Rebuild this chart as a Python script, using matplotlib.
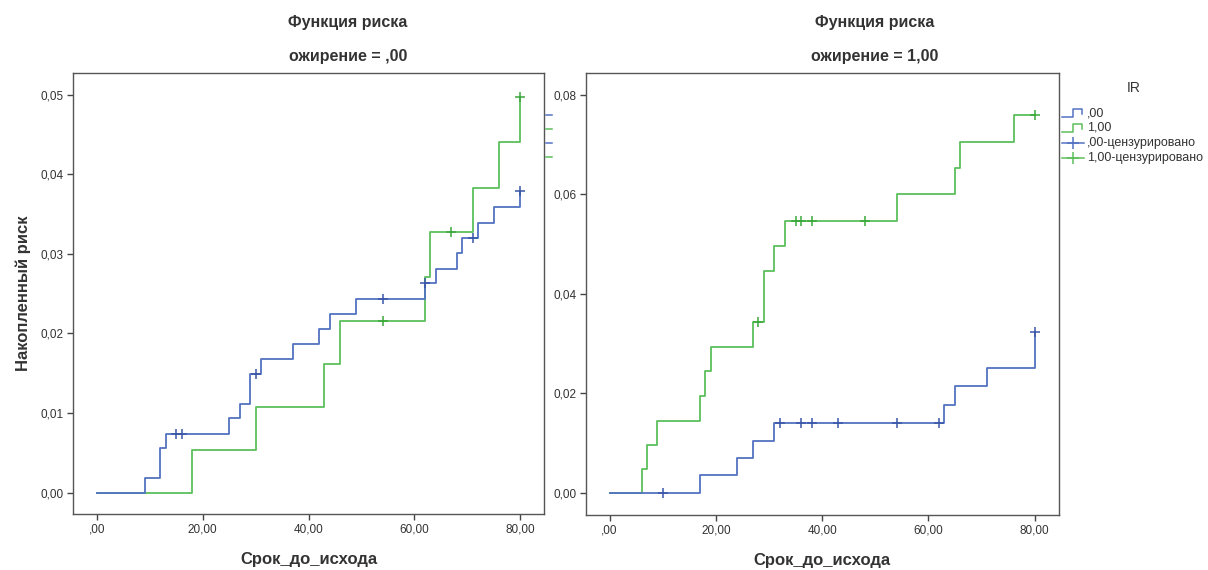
import numpy as np
import matplotlib
matplotlib.use("Agg")
import matplotlib.pyplot as plt
from matplotlib.ticker import FuncFormatter

plt.rcParams['font.family'] = ['Liberation Sans', 'DejaVu Sans']

# ожирение = ,00
left_blue_t = [0, 9, 12, 13, 25, 27, 29, 31, 37, 42, 44, 49, 62, 64, 68, 69, 72, 75, 80]
left_blue_h = [0, .00186, .00555, .00739, .00932, .01116, .01489, .01677, .01866, .0205,
               .02246, .02435, .02628, .02812, .03009, .03197, .03394, .0359, .03788]
left_blue_cens_t = [15, 16, 30, 54, 62, 71, 80]
left_blue_cens_h = [.00739, .00739, .01489, .02435, .02628, .03197, .03788]

left_green_t = [0, 18, 30, 43, 46, 62, 63, 71, 76, 80]
left_green_h = [0, .0053, .01074, .01614, .02158, .02711, .03269, .03829, .04403, .04972]
left_green_cens_t = [54, 67, 80]
left_green_cens_h = [.02158, .03269, .04972]

# ожирение = 1,00
right_blue_t = [0, 17, 24, 27, 31, 63, 65, 71, 80]
right_blue_h = [0, .0035, .0070, .0105, .0140, .0177, .0214, .0251, .0324]
right_blue_cens_t = [10, 32, 36, 38, 43, 54, 62, 80]
right_blue_cens_h = [0, .014, .014, .014, .014, .014, .014, .0324]

right_green_t = [0, 6, 7, 9, 17, 18, 19, 27, 29, 31, 33, 54, 65, 66, 76, 80]
right_green_h = [0, .0048, .0097, .0145, .0194, .0245, .0293, .0344, .0445, .0496, .0547,
                 .0600, .0653, .0706, .0760, .0760]
right_green_cens_t = [28, 35, 36, 38, 48, 80]
right_green_cens_h = [.0344, .0547, .0547, .0547, .0547, .0760]

x_ticks = [0, 20, 40, 60, 80]
left_y_ticks = [0, .01, .02, .03, .04, .05]
right_y_ticks = [0, .02, .04, .06, .08]
legend_labels = [",00", "1,00", ",00-цензурировано", "1,00-цензурировано"]

BLUE = '#5373c2'
GREEN = '#5cbf5c'
BLUE_D = '#3a57a8'
GREEN_D = '#3aa83a'
TXT = '#333333'


def xfmt(v, pos):
    s = f"{v:.2f}".replace('.', ',')
    return ",00" if abs(v) < 1e-9 else s


def yfmt(v, pos):
    return f"{v:.2f}".replace('.', ',')


fig = plt.figure(figsize=(12.08, 5.70), dpi=100)
ax1 = fig.add_axes([0.0607, 0.0982, 0.3897, 0.7746])
ax2 = fig.add_axes([0.4851, 0.0970, 0.3913, 0.7749])


def panel(ax, bt, bh, bct, bch, gt, gh, gct, gch, yticks, ylim):
    ax.step(bt, bh, where='post', color=BLUE, lw=1.3, zorder=3)
    ax.step(gt, gh, where='post', color=GREEN, lw=1.3, zorder=2)
    ax.plot(bct, bch, ls='none', marker='+', ms=7, mew=1.1, color=BLUE_D, zorder=4)
    ax.plot(gct, gch, ls='none', marker='+', ms=7, mew=1.1, color=GREEN_D, zorder=4)
    ax.set_xlim(-4.45, 84.5)
    ax.set_ylim(*ylim)
    ax.set_xticks(x_ticks)
    ax.set_yticks(yticks)
    ax.xaxis.set_major_formatter(FuncFormatter(xfmt))
    ax.yaxis.set_major_formatter(FuncFormatter(yfmt))
    ax.tick_params(direction='out', length=4, width=1, color='#444444',
                   labelsize=8.5, labelcolor=TXT, pad=3)
    for s in ax.spines.values():
        s.set_color('#555555')
        s.set_linewidth(1.0)
    ax.set_xlabel("Срок_до_исхода", fontsize=12, fontweight='bold', color=TXT, labelpad=12)


panel(ax1, left_blue_t, left_blue_h, left_blue_cens_t, left_blue_cens_h,
      left_green_t, left_green_h, left_green_cens_t, left_green_cens_h,
      left_y_ticks, (-0.0027, 0.0528))
panel(ax2, right_blue_t, right_blue_h, right_blue_cens_t, right_blue_cens_h,
      right_green_t, right_green_h, right_green_cens_t, right_green_cens_h,
      right_y_ticks, (-0.0044, 0.0844))
ax1.set_ylabel("Накопленный риск", fontsize=12, fontweight='bold', color=TXT, labelpad=7)

# titles
for xc, sub in [(348, "ожирение = ,00"), (875, "ожирение = 1,00")]:
    fig.text(xc / 1208, 1 - 22 / 570, "Функция риска", ha='center', va='center',
             fontsize=11.5, fontweight='bold', color=TXT)
    fig.text(xc / 1208, 1 - 57 / 570, sub, ha='center', va='center',
             fontsize=11.5, fontweight='bold', color=TXT)

# legend drawn in pixel coordinates on an overlay
ov = fig.add_axes([0, 0, 1, 1], facecolor='none')
ov.set_xlim(0, 1208)
ov.set_ylim(570, 0)
ov.axis('off')
ov.text(1134, 88, "IR", ha='center', va='center', fontsize=10, color=TXT)
leg_y = [113, 128, 143, 158]
leg_col = [BLUE, GREEN, BLUE, GREEN]
for i, (yy, c, lab) in enumerate(zip(leg_y, leg_col, legend_labels)):
    if i < 2:
        ov.plot([1062, 1073, 1073, 1082, 1082], [yy + 4, yy + 4, yy - 4, yy - 4, yy + 1],
                color=c, lw=1.1)
    else:
        ov.plot([1062, 1084], [yy, yy], color=c, lw=1.1)
        ov.plot([1073], [yy], marker='+', ms=9, mew=1.1, color=c)
    ov.text(1087, yy, lab, ha='left', va='center', fontsize=9, color=TXT)

# clipped legend stubs between panels
for yy, c in zip([115, 129, 143, 157], leg_col):
    ov.plot([546, 552], [yy, yy], color=c, lw=1.1)

fig.savefig("out.png", dpi=100, facecolor='white')
